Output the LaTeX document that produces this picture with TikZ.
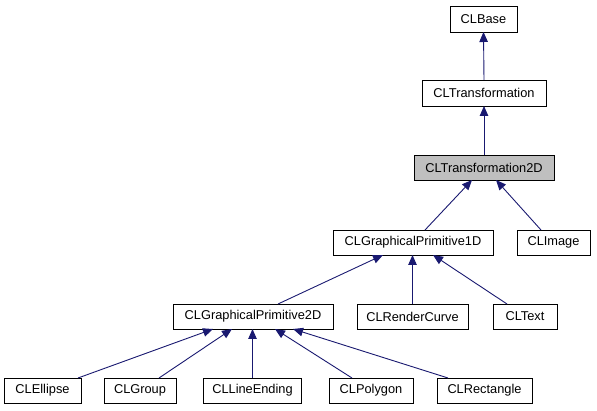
\documentclass[tikz,border=0pt]{standalone}
\usepackage{fontspec}
\setmainfont{Liberation Sans}
\usetikzlibrary{arrows.meta}
\definecolor{edgeblue}{HTML}{191970}
\begin{document}
\begin{tikzpicture}[x=1pt,y=-1pt,
  cls/.style={draw=black,line width=0.9pt,fill=white,inner sep=0pt,outer sep=0pt,
    minimum height=25pt,font=\fontsize{12.8}{14}\selectfont},
  cur/.style={cls,fill=black!25},
  inh/.style={draw=edgeblue,line width=0.9pt,
    -{Triangle[length=10pt,width=8.5pt,fill=edgeblue]}}]
\useasboundingbox (0,0) rectangle (597,411);
\node[cls,minimum width=67pt,minimum height=26pt] (base) at (483.5,19) {CLBase};
\node[cls,minimum width=124pt,minimum height=26pt] (trans) at (484,93) {CLTransformation};
\node[cur,minimum width=140pt] (trans2d) at (484,167.5) {CLTransformation2D};
\node[cls,minimum width=160pt] (gp1d) at (413,242.5) {CLGraphicalPrimitive1D};
\node[cls,minimum width=73pt] (image) at (553.5,242.5) {CLImage};
\node[cls,minimum width=160pt] (gp2d) at (253,316.5) {CLGraphicalPrimitive2D};
\node[cls,minimum width=111pt] (rc) at (412.5,316.5) {CLRenderCurve};
\node[cls,minimum width=64pt] (text) at (525,316.5) {CLText};
\node[cls,minimum width=77pt] (ellipse) at (42.5,390.5) {CLEllipse};
\node[cls,minimum width=72pt] (group) at (140,390.5) {CLGroup};
\node[cls,minimum width=98pt] (lineend) at (252.5,390.5) {CLLineEnding};
\node[cls,minimum width=84pt] (polygon) at (371,390.5) {CLPolygon};
\node[cls,minimum width=95pt] (rect) at (484.5,390.5) {CLRectangle};

\draw[inh] (trans.north) -- (base.south);
\draw[inh] (trans2d.north) -- (trans.south);
\draw[inh] ([xshift=12pt]gp1d.north) -- ([xshift=-12pt]trans2d.south);
\draw[inh] ([xshift=-12.5pt]image.north) -- ([xshift=12pt]trans2d.south);
\draw[inh] ([xshift=25pt]gp2d.north) -- ([xshift=-30pt]gp1d.south);
\draw[inh] (rc.north) -- (rc.north |- gp1d.south);
\draw[inh] ([xshift=-18pt]text.north) -- ([xshift=20pt]gp1d.south);
\draw[inh] ([xshift=35.5pt]ellipse.north) -- ([xshift=-40pt]gp2d.south);
\draw[inh] ([xshift=19pt]group.north) -- ([xshift=-21pt]gp2d.south);
\draw[inh] (lineend.north) -- (lineend.north |- gp2d.south);
\draw[inh] ([xshift=-19pt]polygon.north) -- ([xshift=22pt]gp2d.south);
\draw[inh] ([xshift=-36.5pt]rect.north) -- ([xshift=40pt]gp2d.south);
\end{tikzpicture}
\end{document}
